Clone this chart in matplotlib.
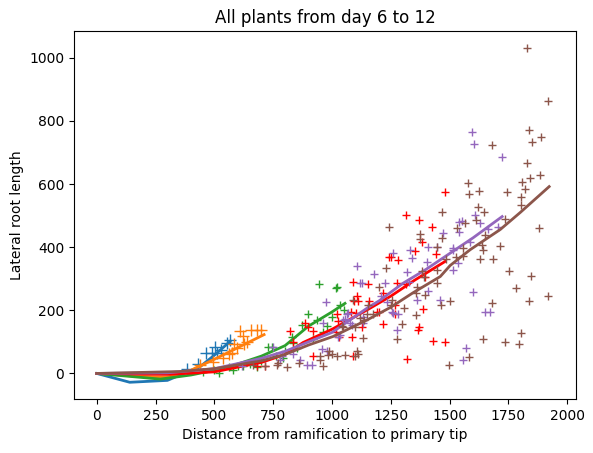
import matplotlib
matplotlib.use('Agg')
import matplotlib.pyplot as plt
import numpy as np

# scatter points per plant group
blue_x = [383, 430, 464, 489, 502, 511, 530, 553, 566]
blue_y = [13, 30, 66, 66, 85, 66, 75, 98, 107]

orange_x = [438, 494, 536, 560, 574, 583, 596, 610, 620, 625, 640, 657, 680, 700]
orange_y = [28, 35, 50, 60, 66, 92, 82, 133, 118, 92, 100, 139, 139, 139]

green_x = [450, 500, 520, 562, 580, 600, 621, 650, 680, 700, 728, 745, 760, 790, 800,
           830, 834, 850, 872, 898, 920, 936, 945, 960, 980, 1000, 1017, 1021, 1034, 1050]
green_y = [5, 10, 2, 19, 10, 25, 22, 30, 20, 40, 85, 85, 55, 50, 70,
           117, 98, 80, 155, 187, 110, 168, 282, 130, 150, 180, 272, 275, 218, 200]

red_x = [681, 715, 821, 834, 885, 898, 919, 919, 1017, 1021, 1026, 1030, 1081, 1085, 1089,
         1089, 1094, 1102, 1106, 1111, 1128, 1153, 1157, 1191, 1200, 1217, 1217, 1243, 1251,
         1268, 1268, 1277, 1281, 1315, 1315, 1319, 1353, 1366, 1370, 1370, 1383, 1387, 1396,
         1426, 1430, 1443, 1481, 1481]
red_y = [22, 22, 133, 101, 161, 146, 133, 54, 130, 187, 165, 114, 196, 117, 291,
         54, 228, 193, 244, 228, 146, 282, 228, 196, 196, 256, 158, 370, 370,
         187, 218, 288, 361, 503, 282, 47, 389, 139, 146, 487, 418, 203, 307,
         465, 104, 380, 101, 576]

purple_x = [617, 749, 779, 787, 834, 864, 894, 915, 957, 962, 974, 979, 1026, 1034, 1047,
            1055, 1064, 1068, 1077, 1085, 1106, 1119, 1128, 1132, 1132, 1179, 1206, 1226,
            1234, 1255, 1260, 1260, 1277, 1281, 1319, 1328, 1332, 1340, 1362, 1404, 1409,
            1409, 1447, 1460, 1472, 1515, 1515, 1515, 1536, 1540, 1540, 1553, 1557, 1570,
            1587, 1596, 1600, 1604, 1609, 1630, 1651, 1664, 1672, 1706, 1723]
purple_y = [22, 85, 44, 54, 60, 44, 28, 28, 79, 161, 225, 70, 114, 123, 168,
            171, 187, 193, 161, 155, 339, 285, 288, 161, 180, 316, 244, 285,
            225, 196, 383, 193, 139, 187, 320, 291, 392, 367, 232, 354, 402,
            260, 402, 234, 446, 392, 329, 399, 351, 449, 481, 484, 41, 82,
            418, 766, 259, 728, 503, 478, 196, 459, 196, 465, 687]

brown_x = [666, 715, 766, 770, 809, 858, 949, 949, 960, 983, 989, 1000, 1021, 1043, 1047,
           1055, 1089, 1098, 1098, 1106, 1111, 1119, 1130, 1136, 1149, 1153, 1174, 1200,
           1230, 1243, 1251, 1255, 1277, 1298, 1306, 1357, 1357, 1362, 1374, 1374, 1383,
           1391, 1396, 1447, 1447, 1447, 1464, 1468, 1468, 1485, 1498, 1502, 1528, 1532,
           1557, 1557, 1566, 1579, 1583, 1583, 1613, 1621, 1626, 1628, 1638, 1643, 1643,
           1647, 1651, 1681, 1681, 1685, 1715, 1736, 1736, 1745, 1753, 1783, 1796, 1804,
           1804, 1804, 1809, 1821, 1830, 1830, 1838, 1839, 1840, 1847, 1851, 1881, 1885,
           1889, 1919, 1919]
brown_y = [28, 22, 28, 32, 20, 33, 54, 44, 22, 57, 70, 60, 54, 149, 146,
           57, 234, 146, 54, 70, 60, 177, 112, 170, 187, 218, 187, 275,
           335, 465, 218, 234, 108, 158, 206, 184, 256, 275, 443, 427, 323,
           304, 250, 288, 329, 402, 218, 513, 430, 364, 28, 228, 370, 462,
           396, 373, 478, 604, 570, 51, 487, 528, 579, 362, 408, 392, 108,
           513, 440, 725, 222, 364, 405, 490, 101, 576, 323, 272, 92, 127,
           560, 535, 607, 585, 667, 1032, 231, 772, 620, 310, 734, 462, 630,
           750, 864, 244]

# smoothed trend per group
blue_lx = [0, 140, 300, 440, 500, 566]
blue_ly = [0, -28, -22, 22, 58, 101]
orange_lx = [0, 150, 300, 400, 500, 600, 711]
orange_ly = [0, -8, -12, 10, 45, 82, 123]
green_lx = [0, 150, 270, 400, 500, 600, 700, 800, 900, 1000, 1055]
green_ly = [0, -10, -18, -5, 10, 30, 55, 88, 150, 195, 222]
red_lx = [0, 300, 500, 700, 800, 877, 1000, 1153, 1250, 1350, 1481]
red_ly = [0, -3, 5, 35, 60, 98, 140, 203, 245, 295, 355]
purple_lx = [0, 300, 500, 700, 800, 900, 1000, 1153, 1200, 1300, 1400, 1500, 1600, 1723]
purple_ly = [0, 2, 15, 48, 70, 100, 130, 209, 230, 285, 330, 380, 430, 497]
brown_lx = [0, 350, 500, 700, 800, 900, 1004, 1153, 1250, 1345, 1460, 1502, 1587, 1715, 1800, 1923]
brown_ly = [0, 6, 15, 40, 60, 90, 117, 171, 210, 256, 307, 342, 392, 456, 510, 592]

fig = plt.figure(figsize=(5.93, 4.53), dpi=100)
ax = fig.add_axes([74/593, 1-399/453, 502/593, 368/453])

groups = [(blue_x, blue_y, blue_lx, blue_ly, 'C0', 8),
          (orange_x, orange_y, orange_lx, orange_ly, 'C1', 8),
          (green_x, green_y, green_lx, green_ly, 'C2', 6),
          (red_x, red_y, red_lx, red_ly, 'red', 6),
          (purple_x, purple_y, purple_lx, purple_ly, 'C4', 6),
          (brown_x, brown_y, brown_lx, brown_ly, 'C5', 6)]

for x, y, lx, ly, c, ms in groups:
    ax.plot(x, y, '+', color=c, markersize=ms)
    ax.plot(lx, ly, '-', color=c, linewidth=2)

ax.set_xlim(-97, 2037)
ax.set_ylim(-81, 1085)
ax.set_xticks(np.arange(0, 2001, 250))
ax.set_yticks(np.arange(0, 1001, 200))
ax.set_title("All plants from day 6 to 12")
ax.set_xlabel("Distance from ramification to primary tip")
ax.set_ylabel("Lateral root length")

plt.savefig('out.png', dpi=100)
